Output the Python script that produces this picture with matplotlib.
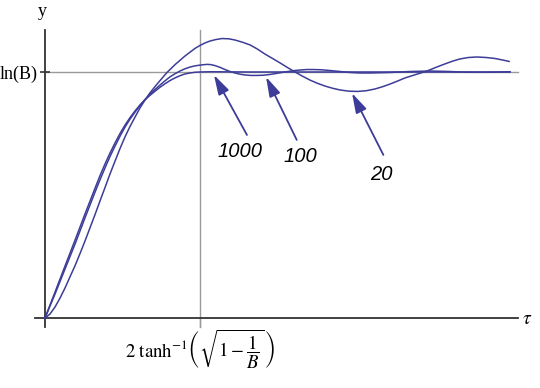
import matplotlib
matplotlib.use("Agg")
import matplotlib.pyplot as plt

# ---- data (tau in units of 2 atanh(sqrt(1-1/B)), y in units of ln(B)) ----
tau_1000 = [0, 0.065, 0.129, 0.194, 0.258, 0.323, 0.355, 0.387, 0.419, 0.452, 0.484,
            0.516, 0.548, 0.581, 0.613, 0.645, 0.677, 0.710, 0.742, 0.774, 0.806,
            0.839, 0.871, 0.903, 0.935, 0.968, 1.0, 1.065, 1.323, 1.645, 2.290, 3.0]
y_1000 = [0, 0.106, 0.211, 0.317, 0.423, 0.528, 0.579, 0.626, 0.670, 0.712, 0.750,
          0.784, 0.814, 0.842, 0.866, 0.887, 0.905, 0.922, 0.938, 0.952, 0.965,
          0.976, 0.985, 0.992, 0.996, 0.999, 1.0, 1.001, 1.0, 1.0, 1.0, 1.0]

tau_100 = [0, 0.065, 0.129, 0.194, 0.258, 0.323, 0.355, 0.387, 0.419, 0.452, 0.484,
           0.516, 0.548, 0.581, 0.613, 0.645, 0.677, 0.710, 0.742, 0.774, 0.806,
           0.839, 0.871, 0.903, 0.935, 0.968, 1.0, 1.045, 1.071, 1.097, 1.129, 1.161,
           1.194, 1.226, 1.258, 1.290, 1.329, 1.368, 1.410, 1.452, 1.500, 1.548, 1.597,
           1.645, 1.687, 1.729, 1.784, 1.839, 1.903, 1.968, 2.032, 2.097, 2.161, 2.226,
           2.290, 2.355, 2.419, 2.484, 2.548, 2.613, 2.677, 2.742, 2.806, 2.871, 2.935,
           3.0]
y_100 = [0, 0.098, 0.199, 0.301, 0.407, 0.512, 0.562, 0.610, 0.656, 0.699, 0.739,
         0.776, 0.808, 0.837, 0.864, 0.888, 0.909, 0.929, 0.947, 0.964, 0.980,
         0.993, 1.004, 1.013, 1.020, 1.025, 1.028, 1.031, 1.030, 1.026, 1.019, 1.010,
         1.002, 0.996, 0.991, 0.988, 0.986, 0.986, 0.987, 0.990, 0.995, 1.0, 1.005,
         1.008, 1.010, 1.010, 1.009, 1.006, 1.002, 0.998, 0.996, 0.996, 0.997, 0.998,
         1.0, 1.002, 1.003, 1.004, 1.003, 1.002, 1.000, 0.999, 0.999, 0.999, 1.000,
         1.001]

tau_20 = [0, 0.032, 0.065, 0.097, 0.129, 0.161, 0.194, 0.226, 0.258, 0.290, 0.323,
          0.355, 0.387, 0.419, 0.452, 0.484, 0.516, 0.548, 0.581, 0.613, 0.645, 0.677,
          0.710, 0.742, 0.787, 0.839, 0.903, 0.968, 1.0, 1.032, 1.065, 1.103, 1.142,
          1.185, 1.226, 1.274, 1.323, 1.371, 1.419, 1.468, 1.516, 1.565, 1.613, 1.661,
          1.710, 1.758, 1.806, 1.855, 1.903, 1.961, 2.019, 2.074, 2.129, 2.177, 2.226,
          2.274, 2.323, 2.394, 2.465, 2.523, 2.581, 2.629, 2.677, 2.732, 2.787, 2.845,
          2.903, 2.950, 2.994]
y_20 = [0, 0.016, 0.045, 0.081, 0.122, 0.167, 0.213, 0.262, 0.313, 0.366, 0.421,
        0.476, 0.530, 0.585, 0.638, 0.689, 0.736, 0.778, 0.817, 0.854, 0.886, 0.915,
        0.941, 0.965, 0.998, 1.030, 1.065, 1.096, 1.108, 1.118, 1.126, 1.132, 1.136,
        1.135, 1.130, 1.121, 1.110, 1.093, 1.073, 1.055, 1.037, 1.018, 1.0, 0.983,
        0.967, 0.954, 0.943, 0.934, 0.927, 0.922, 0.921, 0.924, 0.931, 0.940, 0.951,
        0.963, 0.976, 0.990, 1.004, 1.019, 1.033, 1.044, 1.053, 1.059, 1.061, 1.059,
        1.055, 1.049, 1.043]

labels = ["1000", "100", "20"]
arrow_tips = [(1.090, 0.988), (1.426, 0.980), (1.981, 0.914)]
arrow_tails = [(1.303, 0.744), (1.624, 0.724), (2.183, 0.663)]
label_pos = [(1.258, 0.675), (1.645, 0.655), (2.168, 0.585)]

tau_mark = 1.0
lnB = 1.0

# ---- style ----
plt.rcParams['mathtext.fontset'] = 'stix'
curve_color = '#3d3d99'
axis_color = '#333333'
grid_color = '#9a9a9a'

fig = plt.figure(figsize=(5.4, 3.88), dpi=100)
ax = fig.add_axes([0, 0, 1, 1])
ax.set_xlim(-45 / 155, 495 / 155)
ax.set_ylim(-70 / 246, 318 / 246)
ax.patch.set_visible(False)

for s in ['top', 'right']:
    ax.spines[s].set_visible(False)
ax.spines['left'].set_position(('data', 0))
ax.spines['bottom'].set_position(('data', 0))
ax.spines['left'].set_bounds(-0.0366, 1.1707)
ax.spines['bottom'].set_bounds(-0.0645, 3.0516)
for s in ['left', 'bottom']:
    ax.spines[s].set_color(axis_color)
    ax.spines[s].set_linewidth(1.3)

ax.axhline(lnB, xmin=45 / 540, xmax=518 / 540, color=grid_color, lw=1.0, zorder=1)
ax.axvline(tau_mark, ymin=(388 - 327) / 388, ymax=(388 - 30) / 388, color=grid_color, lw=1.0, zorder=1)

ax.set_xticks([tau_mark])
ax.set_xticklabels([r'$2\ \tanh^{-1}\!\left(\sqrt{1-\dfrac{1}{B}}\,\right)$'])
ax.set_yticks([lnB])
ax.set_yticklabels(['ln(B)'])
ax.tick_params(axis='x', direction='out', length=6.5, width=1.0, color=grid_color,
               pad=0, labelsize=13.5)
ax.tick_params(axis='y', direction='inout', length=7, width=1.2, color=axis_color,
               pad=1.5, labelsize=13)
for t in ax.get_yticklabels():
    t.set_family('Liberation Serif')

ax.plot(tau_1000, y_1000, color=curve_color, lw=1.1, zorder=3)
ax.plot(tau_100, y_100, color=curve_color, lw=1.1, zorder=3)
ax.plot(tau_20, y_20, color=curve_color, lw=1.1, zorder=3)

for lab, tip, tail, pos in zip(labels, arrow_tips, arrow_tails, label_pos):
    ax.annotate('', xy=tip, xytext=tail,
                arrowprops=dict(arrowstyle='-|>,head_length=1.2,head_width=0.35',
                                color=curve_color, lw=1.3, shrinkA=0, shrinkB=0,
                                mutation_scale=10), zorder=4)
    ax.text(pos[0], pos[1], lab, ha='center', va='center', fontsize=14.5,
            style='italic', family='Liberation Sans', color='black')

ax.text(-3 / 155, (318 - 12) / 246, 'y', ha='center', va='center', fontsize=13,
        family='Liberation Serif')
ax.text((522 - 45) / 155, 0, r'$\tau$', ha='left', va='center', fontsize=14)

fig.savefig('out.png', dpi=100)
